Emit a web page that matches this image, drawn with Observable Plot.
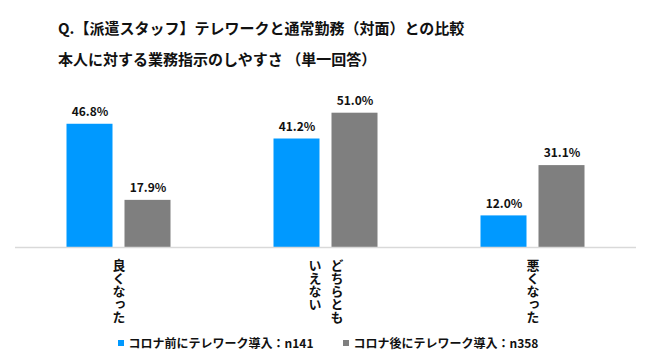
<!DOCTYPE html>
<html>
<head>
<meta charset="utf-8">
<script src="https://cdn.jsdelivr.net/npm/d3@7"></script>
<script src="https://cdn.jsdelivr.net/npm/@observablehq/plot@0.6"></script>
<style>
  html, body { margin: 0; padding: 0; background: #fff; }
  body { width: 650px; height: 363px; overflow: hidden; font-family: "Noto Sans CJK JP", "Noto Sans", sans-serif; }
  #title { padding: 12px 0 0 58px; height: 62px; font-size: 15px; font-weight: bold; line-height: 31px; color: #111; }
  #chart svg { display: block; }
  #legend { display: flex; justify-content: center; gap: 29px; height: 18px; line-height: 18px; font-size: 12px; font-weight: bold; color: #111; padding-left: 6px; }
  #legend .item { display: flex; align-items: center; }
  #legend .sw { width: 6px; height: 6px; margin-right: 5px; }
  text.vert { writing-mode: vertical-rl; text-orientation: upright; }
</style>
</head>
<body>
<div id="title">
  <div>Q.【派遣スタッフ】テレワークと通常勤務（対面）との比較</div>
  <div>本人に対する業務指示のしやすさ （単一回答）</div>
</div>
<div id="chart"></div>
<div id="legend"></div>
<script>
const categories = ["良くなった", "どちらともいえない", "悪くなった"];
const categoryLines = [["良くなった"], ["どちらとも", "いえない"], ["悪くなった"]];
const seriesNames = ["コロナ前にテレワーク導入：n141", "コロナ後にテレワーク導入：n358"];
const beforeValues = [46.8, 41.2, 12.0];
const afterValues = [17.9, 51.0, 31.1];
const colors = ["#0099ff", "#7f7f7f"];

const data = categories.flatMap((c, i) => [
  { cat: c, series: seriesNames[0], value: beforeValues[i] },
  { cat: c, series: seriesNames[1], value: afterValues[i] }
]);

const labelTexts = new Set(categoryLines.flat());

const labelMarks = categoryLines.flatMap((lines, ci) =>
  lines.map((line, li) =>
    Plot.text([{ cat: categories[ci], text: line }], {
      fx: "cat",
      frameAnchor: "bottom",
      text: "text",
      textAnchor: "start",
      lineAnchor: "middle",
      dx: ((lines.length - 1) / 2 - li) * 22,
      dy: 7,
      fontSize: 13,
      fontWeight: "bold",
      fill: "#111"
    })
  )
);

const chart = Plot.plot({
  width: 650,
  height: 260,
  marginTop: 15,
  marginBottom: 87,
  marginLeft: 14.5,
  marginRight: 14.5,
  style: { fontFamily: "'Noto Sans CJK JP', 'Noto Sans', sans-serif", background: "white" },
  fx: { domain: categories, padding: 0, axis: null },
  x: { domain: seriesNames, paddingInner: 0.2, paddingOuter: 0.855, axis: null },
  y: { domain: [0, 60], axis: null },
  color: { domain: seriesNames, range: colors },
  marks: [
    Plot.barY(data, { fx: "cat", x: "series", y: "value", fill: "series" }),
    Plot.ruleY([0], { stroke: "#d9d9d9", strokeWidth: 1.5 }),
    Plot.text(data, {
      fx: "cat", x: "series", y: "value",
      text: d => d.value.toFixed(1) + "%",
      dy: -12, fontSize: 12, fontWeight: "bold", fill: "#111"
    }),
    ...labelMarks
  ]
});
chart.querySelectorAll("text").forEach(t => {
  if (labelTexts.has(t.textContent)) {
    t.classList.add("vert");
    t.removeAttribute("dy");
  }
});
document.getElementById("chart").append(chart);

const legend = document.getElementById("legend");
seriesNames.forEach((name, i) => {
  const item = document.createElement("div");
  item.className = "item";
  const sw = document.createElement("span");
  sw.className = "sw";
  sw.style.background = colors[i];
  const t = document.createElement("span");
  t.textContent = name;
  item.append(sw, t);
  legend.append(item);
});
</script>
</body>
</html>
